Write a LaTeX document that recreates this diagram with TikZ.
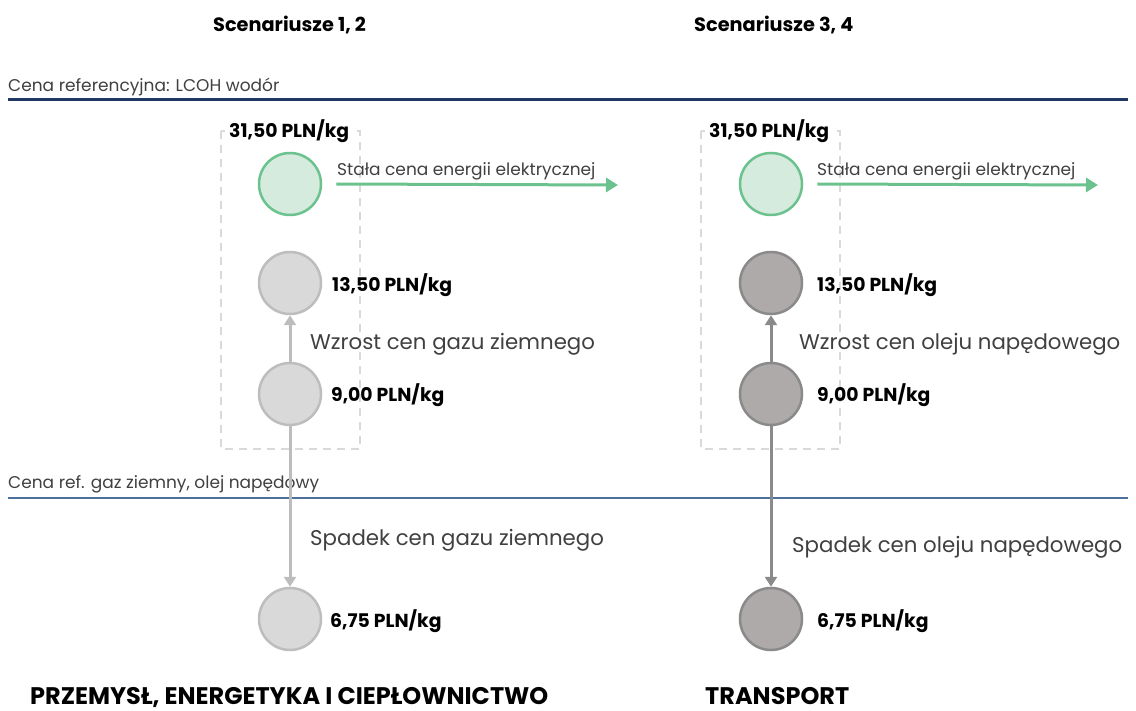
\documentclass[tikz,border=0pt]{standalone}
\usepackage{fontspec}
\setmainfont{Poppins}
\usetikzlibrary{arrows.meta}
\definecolor{navy}{HTML}{203864}
\definecolor{steel}{HTML}{4C6F9C}
\definecolor{grnline}{HTML}{6CC28E}
\definecolor{grnfill}{HTML}{D4EBDD}
\definecolor{lgfill}{HTML}{D9D9D9}
\definecolor{lgline}{HTML}{BDBDBD}
\definecolor{dgfill}{HTML}{AEAAAA}
\definecolor{dgline}{HTML}{8A8A8A}
\definecolor{boxgray}{HTML}{D9D9D9}
\definecolor{txtgray}{HTML}{404040}
\tikzset{
  dot/.style={circle, minimum size=62pt, inner sep=0pt, line width=2.5pt},
  greendot/.style={dot, draw=grnline, fill=grnfill},
  lightdot/.style={dot, draw=lgline, fill=lgfill},
  darkdot/.style={dot, draw=dgline, fill=dgfill},
  price/.style={anchor=base west, inner sep=0pt, font=\fontsize{18.8}{22}\selectfont\bfseries, text=black},
  toppr/.style={price, fill=white, inner xsep=2pt},
  change/.style={anchor=base west, inner sep=0pt, font=\fontsize{21.3}{25}\selectfont, text=txtgray},
  small/.style={anchor=base west, inner sep=0pt, font=\fontsize{17}{20}\selectfont, text=txtgray},
  head/.style={anchor=base west, inner sep=0pt, font=\fontsize{19.3}{23}\selectfont\bfseries, text=black},
  sector/.style={anchor=base west, inner sep=0pt, font=\fontsize{24}{28}\selectfont\bfseries, text=black},
  dashbox/.style={draw=boxgray, line width=2.5pt, dash pattern=on 8pt off 6pt},
  garrow/.style={draw=grnline, line width=3pt, -{Triangle[width=14pt,length=12pt]}},
  larrow/.style={draw=lgline, line width=3pt, -{Triangle[width=12pt,length=10pt]}},
  darrow/.style={draw=dgline, line width=3pt, -{Triangle[width=12pt,length=10pt]}},
}
\begin{document}
\begin{tikzpicture}[x=1pt,y=-1pt]
\useasboundingbox (0,0) rectangle (1136,711);
% headers
\node[head] (h1) at (213,32) {Scenariusze 1, 2};
\node[head] (h2) at (694,32) {Scenariusze 3, 4};
% reference lines
\node[small] (ref1) at (8,92) {Cena referencyjna: LCOH wodór};
\coordinate (l1a) at (8,100);
\coordinate (l1b) at (1128,100);
\draw[navy, line width=3pt] (l1a) -- (l1b);
\node[small] (ref2) at (8,488) {Cena ref. gaz ziemny, olej napędowy};
\coordinate (l2a) at (8,498);
\coordinate (l2b) at (1128,498);
% dashed boxes
\draw[dashbox] (221,131) rectangle (360,449);
\draw[dashbox] (701,131) rectangle (840,449);
% left column
\node[greendot] (g1) at (290,184) {};
\node[lightdot] (a1) at (290,283) {};
\node[lightdot] (b1) at (290,394) {};
\node[lightdot] (c1) at (290,619) {};
\draw[larrow] (b1) -- (a1);
\draw[larrow] (b1) -- (c1);
% right column
\node[greendot] (g2) at (771,184) {};
\node[darkdot] (a2) at (771,283) {};
\node[darkdot] (b2) at (771,394) {};
\node[darkdot] (c2) at (771,619) {};
\draw[darrow] (b2) -- (a2);
\draw[darrow] (b2) -- (c2);
\draw[steel, line width=2.5pt] (l2a) -- (l2b);
% redraw vertical connectors over the line
\draw[lgline, line width=3pt] (290,490) -- (290,506);
\draw[dgline, line width=3pt] (771,490) -- (771,506);
% green arrows
\coordinate (ge1) at (618,185);
\coordinate (ge2) at (1098,185);
\draw[garrow] (g1.east) ++(14,0) coordinate (gs1) -- (ge1);
\draw[garrow] (g2.east) ++(14,0) coordinate (gs2) -- (ge2);
\node[small] (s1) at (337,176) {Stała cena energii elektrycznej};
\node[small] (s2) at (817,176) {Stała cena energii elektrycznej};
% prices left
\node[toppr] (p1) at (227,138) {31,50 PLN/kg};
\node[price] (p2) at (332,292) {13,50 PLN/kg};
\node[price] (p3) at (331,402) {9,00 PLN/kg};
\node[price] (p4) at (330,627) {6,75 PLN/kg};
% prices right
\node[toppr] (q1) at (707,138) {31,50 PLN/kg};
\node[price] (q2) at (817,292) {13,50 PLN/kg};
\node[price] (q3) at (817,402) {9,00 PLN/kg};
\node[price] (q4) at (817,627) {6,75 PLN/kg};
% change labels
\node[change] (w1) at (310,350) {Wzrost cen gazu ziemnego};
\node[change] (d1) at (310,545) {Spadek cen gazu ziemnego};
\node[change] (w2) at (799,350) {Wzrost cen oleju napędowego};
\node[change] (d2) at (792,552) {Spadek cen oleju napędowego};
% sectors
\node[sector] (sec1) at (30,704) {PRZEMYSŁ, ENERGETYKA I CIEPŁOWNICTWO};
\node[sector] (sec2) at (705,704) {TRANSPORT};
\end{tikzpicture}
\end{document}
